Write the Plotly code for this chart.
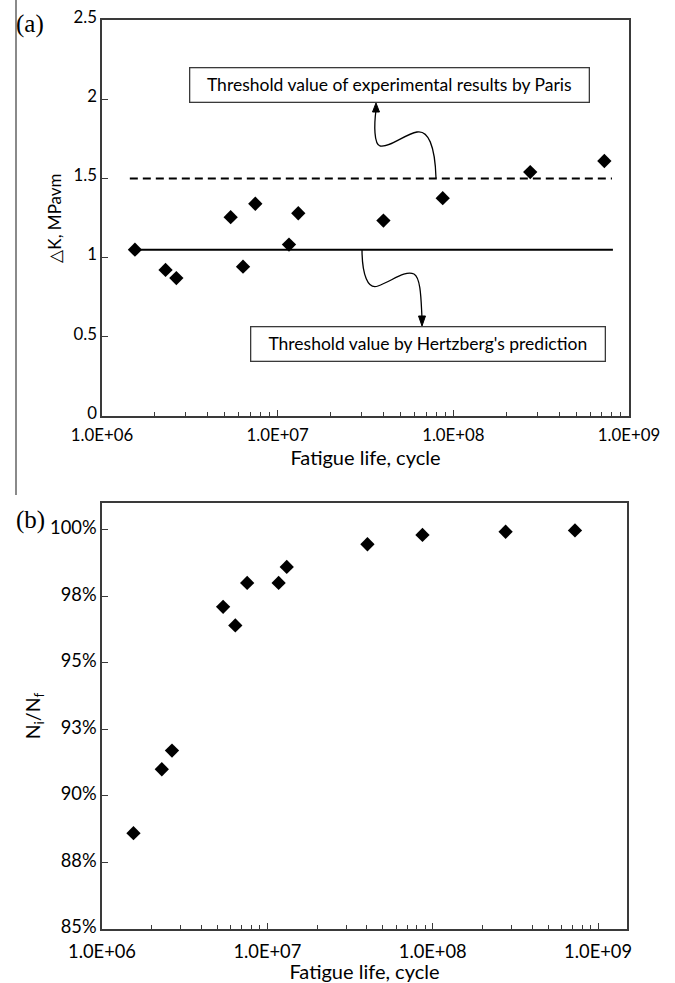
import plotly.graph_objects as go

# ---------------- data ----------------
fatigue_life_a = [1.54e6, 2.3e6, 2.65e6, 5.4e6, 6.35e6, 7.46e6, 1.16e7, 1.31e7, 4.0e7, 8.7e7, 2.74e8, 7.24e8]
delta_k = [1.05, 0.922, 0.871, 1.255, 0.943, 1.34, 1.082, 1.28, 1.234, 1.375, 1.54, 1.61]

fatigue_life_b = [1.55e6, 2.30e6, 2.65e6, 5.4e6, 6.4e6, 7.55e6, 1.17e7, 1.31e7, 4.03e7, 8.67e7, 2.76e8, 7.25e8]
ni_nf = [0.886, 0.910, 0.917, 0.971, 0.964, 0.980, 0.980, 0.986, 0.9945, 0.998, 0.9992, 0.9997]

paris_x = [1.44e6, 8.0e8]
paris_y = [1.5, 1.5]
hertz_x = [1.44e6, 8.1e8]
hertz_y = [1.05, 1.05]

x_tickvals = [1e6, 1e7, 1e8, 1e9]
x_ticktext = ["1.0E+06", "1.0E+07", "1.0E+08", "1.0E+09"]
ya_tickvals = [0, 0.5, 1, 1.5, 2, 2.5]
ya_ticktext = ["0", "0.5", "1", "1.5", "2", "2.5"]
yb_tickvals = [0.85, 0.875, 0.9, 0.925, 0.95, 0.975, 1.0]
yb_ticktext = ["85%", "88%", "90%", "93%", "95%", "98%", "100%"]

# ---------------- layout helpers ----------------
W, H = 675, 983
FONT = "Lato, 'Open Sans', sans-serif"
AXC = "#3a3a3a"


def px(x):
    return x / W


def py(y):
    return 1 - y / H


def path_from(cmds):
    out = []
    for c, pts in cmds:
        out.append(c + " " + " ".join(f"{px(a):.5f},{py(b):.5f}" for a, b in pts))
    return " ".join(out)


minor_vals = [k * 10 ** e for e in (6, 7, 8) for k in range(2, 10)]

fig = go.Figure()

fig.add_trace(go.Scatter(x=paris_x, y=paris_y, mode="lines", xaxis="x", yaxis="y",
                         line=dict(color="black", width=2, dash="8px,5px"), showlegend=False))
fig.add_trace(go.Scatter(x=hertz_x, y=hertz_y, mode="lines", xaxis="x", yaxis="y",
                         line=dict(color="black", width=2), showlegend=False))
fig.add_trace(go.Scatter(x=fatigue_life_a, y=delta_k, mode="markers", xaxis="x", yaxis="y",
                         marker=dict(symbol="diamond", size=11, color="black"), showlegend=False))
fig.add_trace(go.Scatter(x=fatigue_life_b, y=ni_nf, mode="markers", xaxis="x2", yaxis="y2",
                         marker=dict(symbol="diamond", size=11, color="black"), showlegend=False))


def xax(fs):
    return dict(type="log", tickvals=x_tickvals, ticktext=x_ticktext, ticks="inside", ticklen=6,
                tickcolor=AXC, showline=True, linecolor=AXC, linewidth=1.5, mirror=True,
                showgrid=False, zeroline=False, automargin=False,
                tickfont=dict(family=FONT, size=fs, color="black"),
                minor=dict(tickvals=minor_vals, ticks="inside", ticklen=4, tickcolor=AXC, showgrid=False))


def yax(fs):
    return dict(ticks="inside", ticklen=6, tickcolor=AXC, showline=True, linecolor=AXC, linewidth=1.5,
                mirror=True, showgrid=False, zeroline=False, automargin=False,
                tickfont=dict(family=FONT, size=fs, color="black"))


fig.update_layout(
    width=W, height=H, autosize=False,
    margin=dict(l=0, r=0, t=0, b=0),
    paper_bgcolor="white", plot_bgcolor="white",
    xaxis=dict(xax(16.8), domain=[px(102), px(629)], range=[6, 9], anchor="y", ticklabelstandoff=3,
               title=dict(text="Fatigue life, cycle", standoff=0,
                          font=dict(family=FONT, size=20, color="black"))),
    yaxis=dict(yax(16.8), domain=[py(416), py(20)], range=[0, 2.5], anchor="x",
               tickvals=ya_tickvals, ticktext=ya_ticktext, ticklabelshift=-3,
               title=dict(text="△K, MPavm", standoff=8,
                          font=dict(family=FONT, size=17, color="black"))),
    xaxis2=dict(xax(18.3), domain=[px(102), px(627)], range=[6, 9.175], anchor="y2", ticklabelstandoff=5,
                title=dict(text="Fatigue life, cycle", standoff=9,
                           font=dict(family=FONT, size=20, color="black"))),
    yaxis2=dict(yax(18.3), domain=[py(929), py(503)], range=[0.85, 1.01], anchor="x2",
                tickvals=yb_tickvals, ticktext=yb_ticktext, ticklabelshift=-2,
                title=dict(text="N<sub>i</sub>/N<sub>f</sub>", standoff=4,
                           font=dict(family=FONT, size=19.5, color="black"))),
)

# annotation boxes
fig.add_annotation(xref="paper", yref="paper", x=px(390), y=py(84.5), xanchor="center", yanchor="middle",
                   text="Threshold value of experimental results by Paris", showarrow=False,
                   font=dict(family=FONT, size=17.5, color="black"), bgcolor="white",
                   bordercolor=AXC, borderwidth=1.3, borderpad=0, width=398, height=33)
fig.add_annotation(xref="paper", yref="paper", x=px(427.5), y=py(343.5), xanchor="center", yanchor="middle",
                   text="Threshold value by Hertzberg's prediction", showarrow=False,
                   font=dict(family=FONT, size=17.5, color="black"), bgcolor="white",
                   bordercolor=AXC, borderwidth=1.3, borderpad=0, width=353, height=33)

# panel labels
fig.add_annotation(xref="paper", yref="paper", x=px(14), y=py(24), xanchor="left", yanchor="middle",
                   text="(a)", showarrow=False,
                   font=dict(family="'Liberation Serif', 'DejaVu Serif', serif", size=25, color="black"))
fig.add_annotation(xref="paper", yref="paper", x=px(14), y=py(520), xanchor="left", yanchor="middle",
                   text="(b)", showarrow=False,
                   font=dict(family="'Liberation Serif', 'DejaVu Serif', serif", size=25, color="black"))

# curved leader arrows
arrow1 = [("M", [(436, 178)]), ("C", [(435, 145), (428, 130), (417, 132)]),
          ("C", [(405, 134), (390, 148), (380, 146)]), ("C", [(374, 144), (374, 125), (376, 110)])]
arrow2 = [("M", [(362, 249)]), ("C", [(362, 275), (368, 290), (378, 286)]),
          ("C", [(392, 281), (405, 270), (414, 274)]), ("C", [(421, 278), (421, 300), (422, 318)])]
head1 = [("M", [(376, 103)]), ("L", [(372.5, 112)]), ("L", [(379.5, 112)])]
head2 = [("M", [(422, 326)]), ("L", [(418.5, 316)]), ("L", [(425.5, 316)])]

for p in (arrow1, arrow2):
    fig.add_shape(type="path", xref="paper", yref="paper", path=path_from(p),
                  line=dict(color="black", width=1.3))
for p in (head1, head2):
    fig.add_shape(type="path", xref="paper", yref="paper", path=path_from(p) + " Z",
                  line=dict(color="black", width=1), fillcolor="black")

# grey vertical border line at left of panel (a)
fig.add_shape(type="line", xref="paper", yref="paper", x0=px(16), x1=px(16), y0=py(0), y1=py(495),
              line=dict(color="#8a8a8a", width=2))

fig.write_html("out.html", config={"displayModeBar": False},
               post_script="document.body.style.margin='0';")
